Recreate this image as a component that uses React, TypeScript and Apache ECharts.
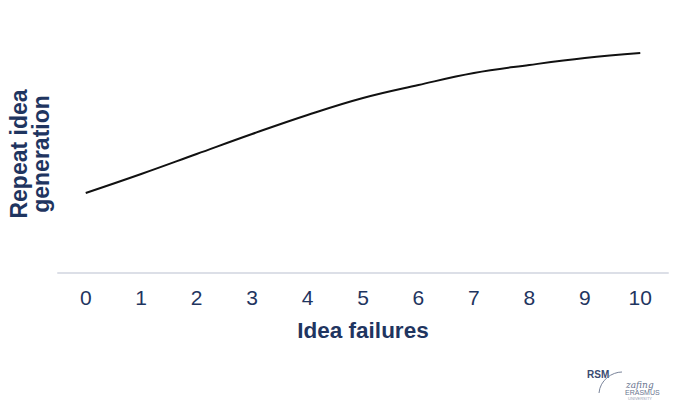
import React, { useEffect, useRef } from "react";
import * as echarts from "echarts";

const categories = ["0", "1", "2", "3", "4", "5", "6", "7", "8", "9", "10"];
const repeatValues = [80, 99, 119, 139, 158, 175, 188, 200, 208, 215, 220];
const xTitle = "Idea failures";
const yTitle = "Repeat idea\ngeneration";

export default function App() {
  const ref = useRef<HTMLDivElement>(null);
  useEffect(() => {
    if (!ref.current) return;
    const chart = echarts.init(ref.current, null, { renderer: "svg" });
    const navy = "#1f3560";
    chart.setOption({
      animation: false,
      backgroundColor: "#ffffff",
      grid: { left: 58, right: 29, top: 23, bottom: 128, containLabel: false },
      xAxis: {
        type: "category",
        data: categories,
        boundaryGap: true,
        axisLine: { show: true, lineStyle: { color: "#dcdfe7", width: 2 } },
        axisTick: { show: false },
        axisLabel: {
          color: navy,
          fontSize: 21,
          fontFamily: "Liberation Sans, Arial, sans-serif",
          margin: 14,
        },
        name: xTitle,
        nameLocation: "middle",
        nameGap: 46,
        nameTextStyle: {
          color: navy,
          fontSize: 22.5,
          fontWeight: "bold",
          fontFamily: "Liberation Sans, Arial, sans-serif",
        },
      },
      yAxis: {
        type: "value",
        min: 0,
        max: 250,
        show: false,
        splitLine: { show: false },
      },
      series: [
        {
          type: "line",
          data: repeatValues,
          smooth: 0.4,
          showSymbol: false,
          symbol: "none",
          lineStyle: { color: "#111111", width: 2 },
        },
      ],
      graphic: [
        {
          type: "text",
          x: 30,
          y: 154,
          rotation: Math.PI / 2,
          style: {
            text: yTitle,
            fill: navy,
            font: "bold 23px 'Liberation Sans', Arial, sans-serif",
            textAlign: "center",
            textVerticalAlign: "middle",
            lineHeight: 22,
          },
        },
        {
          type: "text",
          x: 587,
          y: 369,
          style: {
            text: "RSM",
            fill: "#3a4a70",
            font: "bold 10px 'Liberation Sans', Arial, sans-serif",
          },
        },
        {
          type: "bezierCurve",
          shape: { x1: 599, y1: 393, cpx1: 600, cpy1: 380, cpx2: 612, cpy2: 372, x2: 622, y2: 372 },
          style: { stroke: "#7a849a", lineWidth: 1, fill: "none" },
        },
        {
          type: "text",
          x: 626,
          y: 380,
          style: {
            text: "zafing",
            fill: "#6a7590",
            font: "italic 9px 'DejaVu Serif', serif",
          },
        },
        {
          type: "text",
          x: 625,
          y: 389,
          style: {
            text: "ERASMUS",
            fill: "#6a7590",
            font: "7px 'Liberation Sans', Arial, sans-serif",
          },
        },
        {
          type: "text",
          x: 628,
          y: 396,
          style: {
            text: "UNIVERSITY",
            fill: "#9aa2b5",
            font: "4px 'Liberation Sans', Arial, sans-serif",
          },
        },
      ],
    });
    return () => chart.dispose();
  }, []);
  return <div ref={ref} style={{ width: 697, height: 401, position: "absolute", left: 0, top: 0 }} />;
}
